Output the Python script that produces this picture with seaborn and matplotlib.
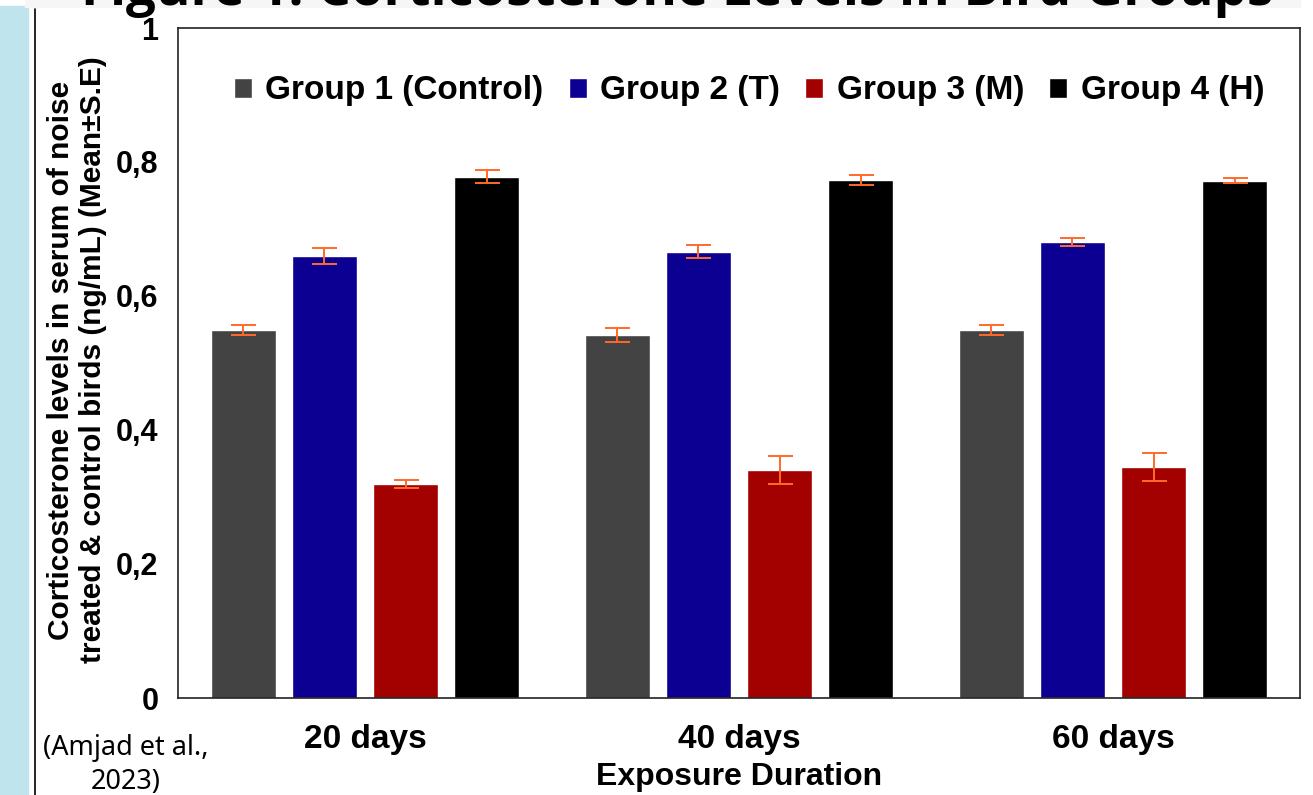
import numpy as np
import pandas as pd
import matplotlib
matplotlib.use("Agg")
import matplotlib.pyplot as plt
import seaborn as sns
from matplotlib.patches import Rectangle
from matplotlib.lines import Line2D


# ---------------- DATA ----------------
durations = ["20 days", "40 days", "60 days"]
groups = ["Group 1 (Control)", "Group 2 (T)", "Group 3 (M)", "Group 4 (H)"]

g1_mean = [0.549, 0.542, 0.549]
g2_mean = [0.660, 0.666, 0.681]
g3_mean = [0.319, 0.340, 0.345]
g4_mean = [0.778, 0.773, 0.772]

g1_se = [0.007, 0.010, 0.007]
g2_se = [0.012, 0.010, 0.006]
g3_se = [0.006, 0.021, 0.021]
g4_se = [0.010, 0.008, 0.004]

yticks = [0, 0.2, 0.4, 0.6, 0.8, 1]
ytick_labels = ["0", "0,2", "0,4", "0,6", "0,8", "1"]

colors = ["#434343", "#0b0092", "#a30000", "#000000"]
err_color = "#ff6a2a"

means = [g1_mean, g2_mean, g3_mean, g4_mean]
sems = [g1_se, g2_se, g3_se, g4_se]

df = pd.DataFrame({
    "duration": np.repeat([durations], len(groups), axis=0).ravel(),
    "group": np.repeat(groups, len(durations)),
    "value": np.ravel(means),
})


# ---------------- STYLE ----------------
sns.set_theme(style="white")
plt.rcParams["font.family"] = ["Liberation Sans", "DejaVu Sans"]
plt.rcParams["text.color"] = "black"
plt.rcParams["xtick.color"] = "black"
plt.rcParams["ytick.color"] = "black"
plt.rcParams["axes.labelcolor"] = "black"

fig = plt.figure(figsize=(13.13, 7.95), dpi=100)
W, H = 1313, 795
ax = fig.add_axes([178 / W, 97 / H, 1122 / W, 670 / H])

# page decorations (left strip, frame line, top banner)
fig.patches.append(Rectangle((0, 0), 28 / W, 1 - 6 / H, transform=fig.transFigure,
                             color="#c0e4ee", zorder=0))
fig.lines.append(Line2D([35 / W, 35 / W], [0, 1 - 9 / H], transform=fig.transFigure,
                        color="black", lw=1.2))
fig.patches.append(Rectangle((25 / W, 1 - 7 / H), 1275 / W, 7 / H, transform=fig.transFigure,
                             color="#f6f6f6", zorder=0))
fig.text(677 / W, 1 - 5 / H, "Figure 1: Corticosterone Levels in Bird Groups",
         ha="center", va="baseline", fontsize=38, fontweight="bold",
         family=["Open Sans", "DejaVu Sans"], color="black")


# ---------------- BARS ----------------
sns.barplot(data=df, x="duration", y="value", hue="group", hue_order=groups,
            palette=colors, width=0.868, gap=0.2, errorbar=None,
            saturation=1, ax=ax)

for cont, se in zip(ax.containers, sems):
    xs = [b.get_x() + b.get_width() / 2 for b in cont]
    ys = [b.get_height() for b in cont]
    ax.errorbar(xs, ys, yerr=se, fmt="none", ecolor=err_color,
                elinewidth=1.4, capsize=9, capthick=1.4, zorder=5)


# ---------------- AXES ----------------
ax.set_xlim(-0.5, 2.5)
ax.set_ylim(0, 1)
ax.set_yticks(yticks)
ax.set_yticklabels(ytick_labels)
ax.tick_params(axis="y", length=0, pad=14, labelsize=22)
ax.tick_params(axis="x", length=0, pad=19, labelsize=24)
for lab in ax.get_xticklabels() + ax.get_yticklabels():
    lab.set_fontweight("bold")
ax.set_xlabel("Exposure Duration", fontsize=23, fontweight="bold", labelpad=5)
ax.set_ylabel("")
for sp in ax.spines.values():
    sp.set_visible(True)
    sp.set_color("#222222")
    sp.set_linewidth(1.2)

fig.text(77 / W, 1 - 360 / H,
         "Corticosterone levels in serum of noise\ntreated & control birds (ng/mL) (Mean±S.E)",
         rotation=90, ha="center", va="center", fontsize=21.5, fontweight="bold",
         linespacing=1.15)

leg = ax.legend(loc="center", bbox_to_anchor=(749 / W, 1 - 91 / H),
                bbox_transform=fig.transFigure, ncol=4, frameon=False,
                fontsize=24, handlelength=0.55, handleheight=0.55,
                handletextpad=0.4, columnspacing=0.75)
for t in leg.get_texts():
    t.set_fontweight("bold")

fig.text(126 / W, 1 - 765 / H, "(Amjad et al.,\n2023)", ha="center", va="center",
         fontsize=19.5, family=["Noto Sans", "DejaVu Sans"], color="black",
         linespacing=1.25)

fig.savefig("out.png", dpi=100)
